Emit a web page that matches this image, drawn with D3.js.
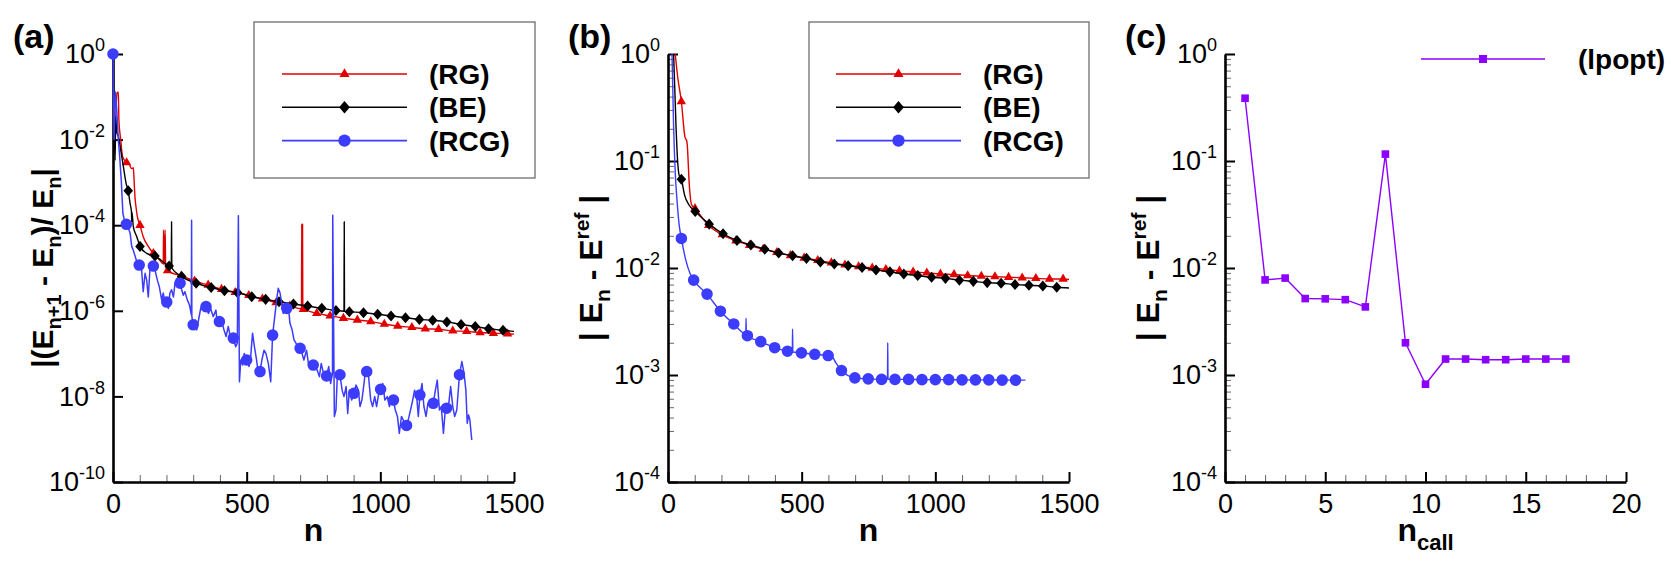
<!DOCTYPE html>
<html>
<head>
<meta charset="utf-8">
<script src="https://cdn.jsdelivr.net/npm/d3@7"></script>
<style>
html, body { margin: 0; padding: 0; background: #fff; }
svg { display: block; font-family: "Liberation Sans", Arial, Helvetica, sans-serif; }
</style>
</head>
<body>
<script>
// ---------- data ----------
// panel (a): |(E_{n+1} - E_n)/E_n| vs n
const rgA = [[10,0.03],[15,0.12],[20,0.13],[22,0.029],[29,9.8e-3],[36,4.0e-3],[51,2.9e-3],[61,2.6e-3],[70,2.1e-3],[76,2.2e-3],[79,1.1e-3],[82,4.7e-4],[86,2.7e-4],[91,1.6e-4],[101,1.0e-4],[113,5.4e-5],[132,3.2e-5],[151,2.2e-5],[176,1.5e-5],[188,1.25e-5],[189,7.7e-5],[191,1.2e-5],[195,7.7e-5],[197,1.1e-5],[204,8.7e-6],[255,6.5e-6],[305,5.0e-6],[356,4.0e-6],[406,3.2e-6],[457,2.7e-6],[508,2.3e-6],[559,1.9e-6],[610,1.55e-6],[661,1.3e-6],[705,1.12e-6],[706,1.07e-4],[707,1.11e-6],[709,1.07e-4],[710,1.09e-6],[712,1.08e-6],[762,8.7e-7],[812,7.6e-7],[862,6.7e-7],[914,6.1e-7],[964,5.6e-7],[1015,4.9e-7],[1065,4.4e-7],[1118,4.1e-7],[1168,3.8e-7],[1218,3.7e-7],[1271,3.4e-7],[1323,3.3e-7],[1373,3.1e-7],[1423,3.0e-7],[1476,2.9e-7],[1500,2.85e-7]];
const rgAMarks = [[51,2.9e-3],[101,1.0e-4],[151,2.2e-5],[204,8.7e-6],[255,6.5e-6],[305,5.0e-6],[356,4.0e-6],[406,3.2e-6],[457,2.7e-6],[508,2.3e-6],[559,1.9e-6],[610,1.55e-6],[661,1.3e-6],[712,1.08e-6],[762,8.7e-7],[812,7.6e-7],[862,6.7e-7],[914,6.1e-7],[964,5.6e-7],[1015,4.9e-7],[1065,4.4e-7],[1118,4.1e-7],[1168,3.8e-7],[1218,3.7e-7],[1271,3.4e-7],[1323,3.3e-7],[1373,3.1e-7],[1423,3.0e-7],[1476,2.9e-7]];

const beA = [[0,1],[5,0.035],[8,3.3e-3],[10,0.035],[14,0.015],[20,1.2e-2],[29,5.7e-3],[39,2.3e-3],[49,9.5e-4],[57,6.4e-4],[64,3.2e-4],[69,2.1e-4],[70,1.2e-4],[71,2.0e-4],[76,9.3e-5],[89,5.4e-5],[101,3.2e-5],[126,2.2e-5],[157,1.9e-5],[210,1.11e-5],[218,1.05e-5],[219,1.2e-4],[220,1.0e-5],[257,6.3e-6],[311,4.4e-6],[367,3.5e-6],[417,2.95e-6],[466,2.65e-6],[519,2.14e-6],[571,1.85e-6],[621,1.63e-6],[675,1.44e-6],[728,1.29e-6],[781,1.14e-6],[834,1.02e-6],[864,9.8e-7],[865,1.2e-4],[866,9.7e-7],[884,9.5e-7],[937,9.0e-7],[990,8.3e-7],[1040,7.6e-7],[1094,6.9e-7],[1146,6.3e-7],[1196,6.0e-7],[1249,5.5e-7],[1302,4.8e-7],[1355,4.3e-7],[1405,3.8e-7],[1459,3.5e-7],[1500,3.3e-7]];
const beAMarks = [[57,6.4e-4],[101,3.2e-5],[157,1.9e-5],[210,1.11e-5],[257,6.3e-6],[311,4.4e-6],[367,3.5e-6],[417,2.95e-6],[466,2.65e-6],[519,2.14e-6],[571,1.85e-6],[621,1.63e-6],[675,1.44e-6],[728,1.29e-6],[781,1.14e-6],[834,1.02e-6],[884,9.5e-7],[937,9.0e-7],[990,8.3e-7],[1040,7.6e-7],[1094,6.9e-7],[1146,6.3e-7],[1196,6.0e-7],[1249,5.5e-7],[1302,4.8e-7],[1355,4.3e-7],[1405,3.8e-7],[1459,3.5e-7]];

const rcgA = [[0,1],[4,0.01],[9,0.13],[14,0.05],[20,1.0e-2],[25,4.0e-3],[31,1.1e-3],[37,1.9e-4],[44,1.2e-4],[50,1.05e-4],[57,9e-5],[64,6.5e-5],[70,3.2e-5],[76,2.6e-5],[89,1.4e-5],[98,1.17e-5],[107,9.0e-6],[113,2.8e-6],[120,7.5e-6],[126,5.2e-6],[132,2.1e-6],[138,9.0e-6],[151,1.11e-5],[157,9.0e-6],[166,5.2e-6],[173,3.7e-6],[182,1.8e-6],[188,2.6e-6],[195,1.5e-6],[201,1.6e-6],[207,1.14e-6],[213,2.6e-6],[219,3.1e-6],[226,2.1e-6],[232,4.4e-6],[238,5.7e-6],[244,3.7e-6],[251,4.4e-6],[257,3.1e-6],[263,2.3e-6],[269,2.8e-6],[278,1.8e-6],[286,1.37e-6],[293,8e-7],[294,1.3e-4],[295,7.3e-7],[300,4.7e-7],[307,6.1e-7],[313,3.6e-7],[320,6.1e-7],[328,1.14e-6],[338,1.5e-6],[348,1.25e-6],[357,8.7e-7],[365,1.14e-6],[375,7.3e-7],[385,1.04e-6],[390,5.1e-7],[398,5.6e-7],[406,6.1e-7],[415,3.6e-7],[423,2.5e-7],[431,4.3e-7],[440,2.3e-7],[450,2.3e-7],[459,1.45e-7],[465,1.74e-7],[469,1.67e-4],[473,2.2e-8],[478,7.1e-8],[485,5.4e-8],[491,1.01e-7],[500,7.1e-8],[509,5.0e-8],[515,8.5e-8],[522,3.0e-7],[529,1.45e-7],[537,7.1e-8],[545,2.9e-8],[550,3.8e-8],[557,7.1e-8],[565,1.2e-7],[572,1.01e-7],[581,5.9e-8],[590,2.2e-8],[597,2.7e-7],[605,7.3e-7],[612,1.8e-6],[618,3.35e-6],[625,2.6e-6],[631,1.5e-6],[637,8.7e-7],[643,1.5e-6],[650,1.14e-6],[656,1.25e-6],[662,5.1e-7],[670,3.6e-7],[677,2.1e-7],[685,1.74e-7],[692,1.2e-7],[700,1.33e-7],[707,1.01e-7],[714,7.1e-8],[724,1.2e-7],[732,5.4e-8],[739,5.9e-8],[749,5.4e-8],[757,4.5e-8],[764,4.1e-8],[772,2.9e-8],[779,5.9e-8],[787,3.5e-8],[794,2.6e-8],[799,3.0e-8],[807,5.0e-8],[814,2.0e-8],[821,3.5e-8],[822,1.7e-4],[828,3.4e-9],[834,4.8e-9],[839,2.9e-8],[844,4.1e-8],[849,3.2e-8],[857,1.4e-8],[864,9.9e-9],[872,1.7e-8],[878,4.0e-9],[884,1.4e-8],[893,8.2e-9],[901,1.18e-8],[909,1.85e-8],[918,1.4e-8],[924,5.8e-9],[931,8.2e-9],[939,2.0e-8],[945,4.5e-8],[949,3.8e-8],[956,2.9e-8],[964,8.2e-9],[971,5.8e-9],[979,9.9e-9],[986,5.8e-9],[994,1.18e-8],[1001,1.46e-8],[1009,2.0e-8],[1017,8.2e-9],[1026,9.9e-9],[1034,5.8e-9],[1042,9.9e-9],[1049,8.2e-9],[1056,4.8e-9],[1064,3.4e-9],[1071,1.37e-9],[1079,3.4e-9],[1086,2.8e-9],[1092,2.0e-9],[1098,2.1e-9],[1106,3.1e-9],[1113,4.8e-9],[1121,8.2e-9],[1128,1.4e-8],[1136,9.9e-9],[1142,3.4e-9],[1148,1.08e-8],[1156,2.0e-8],[1163,5.8e-9],[1171,3.4e-9],[1178,6.9e-9],[1186,5.8e-9],[1192,8.2e-9],[1198,6.9e-9],[1206,1.4e-8],[1213,2.4e-8],[1221,4.8e-9],[1228,5.8e-9],[1236,1.37e-9],[1243,4.8e-9],[1248,5.3e-9],[1256,6.9e-9],[1263,1.7e-8],[1271,5.8e-9],[1278,3.4e-9],[1286,4.8e-9],[1296,3.2e-8],[1305,6.5e-8],[1313,3.5e-8],[1320,1.4e-8],[1325,2.35e-9],[1330,3.7e-9],[1335,2.8e-9],[1342,9.6e-10]];
const rcgAMarks = [[0,1],[50,1.05e-4],[98,1.17e-5],[151,1.11e-5],[201,1.6e-6],[251,4.4e-6],[300,4.7e-7],[348,1.25e-6],[398,5.6e-7],[450,2.3e-7],[500,7.1e-8],[550,3.8e-8],[597,2.7e-7],[650,1.14e-6],[700,1.33e-7],[749,5.4e-8],[799,3.0e-8],[849,3.2e-8],[901,1.18e-8],[949,3.8e-8],[1001,1.46e-8],[1049,8.2e-9],[1098,2.1e-9],[1148,1.08e-8],[1198,6.9e-9],[1248,5.3e-9],[1296,3.2e-8]];

// panel (b): |E_n - E_ref| vs n
const rgB = [[27,1],[37,0.59],[50,0.36],[63,0.17],[71,0.15],[80,0.058],[88,0.039],[101,0.036],[152,0.025],[203,0.0205],[254,0.018],[305,0.0163],[356,0.015],[407,0.014],[458,0.0131],[509,0.0124],[560,0.0118],[611,0.0112],[662,0.0107],[713,0.0103],[764,0.0100],[815,0.0097],[866,0.0094],[917,0.0092],[968,0.0090],[1019,0.0088],[1070,0.0087],[1121,0.0085],[1172,0.0084],[1223,0.0083],[1274,0.0082],[1325,0.0081],[1376,0.0080],[1427,0.0079],[1478,0.0079],[1500,0.0078]];
const rgBMarks = [[50,0.36],[101,0.036],[152,0.025],[203,0.0205],[254,0.018],[305,0.0163],[356,0.015],[407,0.014],[458,0.0131],[509,0.0124],[560,0.0118],[611,0.0112],[662,0.0107],[713,0.0103],[764,0.0100],[815,0.0097],[866,0.0094],[917,0.0092],[968,0.0090],[1019,0.0088],[1070,0.0087],[1121,0.0085],[1172,0.0084],[1223,0.0083],[1274,0.0082],[1325,0.0081],[1376,0.0080],[1427,0.0079],[1478,0.0079]];

const beB = [[21,1],[30,0.21],[36,0.10],[42,0.073],[50,0.0676],[62,0.048],[78,0.039],[102,0.0337],[154,0.0257],[206,0.0209],[258,0.0181],[310,0.0164],[362,0.0150],[414,0.0138],[466,0.0130],[518,0.0123],[570,0.0114],[622,0.0109],[674,0.0105],[726,0.0101],[778,0.0096],[830,0.0092],[882,0.0088],[934,0.0085],[986,0.0082],[1038,0.0080],[1090,0.0077],[1142,0.0075],[1194,0.0073],[1246,0.0072],[1298,0.0070],[1350,0.0069],[1402,0.0068],[1454,0.0066],[1500,0.0065]];
const beBMarks = [[50,0.0676],[102,0.0337],[154,0.0257],[206,0.0209],[258,0.0181],[310,0.0164],[362,0.0150],[414,0.0138],[466,0.0130],[518,0.0123],[570,0.0114],[622,0.0109],[674,0.0105],[726,0.0101],[778,0.0096],[830,0.0092],[882,0.0088],[934,0.0085],[986,0.0082],[1038,0.0080],[1090,0.0077],[1142,0.0075],[1194,0.0073],[1246,0.0072],[1298,0.0070],[1350,0.0069],[1402,0.0068],[1454,0.0066]];

const rcgB = [[15,1],[21,0.21],[27,0.079],[34,0.042],[42,0.025],[50,0.0189],[65,0.0123],[84,8.7e-3],[96,7.7e-3],[146,5.7e-3],[196,3.95e-3],[246,3.0e-3],[291,2.42e-3],[292,3.4e-3],[293,2.4e-3],[297,2.33e-3],[347,2.05e-3],[399,1.8e-3],[447,1.67e-3],[465,1.64e-3],[466,2.7e-3],[467,1.64e-3],[499,1.61e-3],[549,1.56e-3],[599,1.52e-3],[612,1.5e-3],[628,1.3e-3],[649,1.1e-3],[699,9.4e-4],[749,9.2e-4],[799,9.1e-4],[821,9.1e-4],[822,2.0e-3],[823,9.1e-4],[849,9.1e-4],[900,9.1e-4],[950,9.05e-4],[1000,9.05e-4],[1050,9.05e-4],[1100,9.0e-4],[1150,9.0e-4],[1200,9.0e-4],[1250,8.95e-4],[1300,8.95e-4],[1337,8.95e-4]];
const rcgBMarks = [[50,0.0189],[96,7.7e-3],[146,5.7e-3],[196,3.95e-3],[246,3.0e-3],[297,2.33e-3],[347,2.05e-3],[399,1.8e-3],[447,1.67e-3],[499,1.61e-3],[549,1.56e-3],[599,1.52e-3],[649,1.1e-3],[699,9.4e-4],[749,9.2e-4],[799,9.1e-4],[849,9.1e-4],[900,9.1e-4],[950,9.05e-4],[1000,9.05e-4],[1050,9.05e-4],[1100,9.0e-4],[1150,9.0e-4],[1200,9.0e-4],[1250,8.95e-4],[1300,8.95e-4]];

// panel (c): |E_n - E_ref| vs n_call
const nCall = [1,2,3,4,5,6,7,8,9,10,11,12,13,14,15,16,17];
const lpopt = [0.386,7.74e-3,8.05e-3,5.18e-3,5.15e-3,5.06e-3,4.33e-3,0.116,2.0e-3,8.2e-4,1.41e-3,1.41e-3,1.39e-3,1.39e-3,1.41e-3,1.41e-3,1.41e-3];

// tick values
const nTicks = [0, 500, 1000, 1500];
const callTicks = [0, 5, 10, 15, 20];
const yTicksA = [1, 1e-2, 1e-4, 1e-6, 1e-8, 1e-10];
const yTicksBC = [1, 1e-1, 1e-2, 1e-3, 1e-4];

// ---------- layout ----------
const W = 1671, H = 563;
const TOP = 54, PW = 401, PH = 428;
const RED = "#e00000", BLK = "#000000", BLUE = "#3c3cff", PURP = "#8c00ff";

const svg = d3.select("body").append("svg")
    .attr("width", W).attr("height", H);
svg.append("rect").attr("width", W).attr("height", H).attr("fill", "#fff");

// diamond marker, a bit taller than wide
const symDiamond = {
    draw(ctx, r) {
        ctx.moveTo(0, -r * 1.15);
        ctx.lineTo(r, 0);
        ctx.lineTo(0, r * 1.15);
        ctx.lineTo(-r, 0);
        ctx.closePath();
    }
};
const markers = {
    tri: (big) => d3.symbol().type(d3.symbolTriangle).size(big ? 44 : 38)(),
    dia: (big) => d3.symbol().type(symDiamond).size(big ? 5.4 : 4.8)(),
    circ: (big) => d3.symbol().type(d3.symbolCircle).size(big ? 120 : 105)(),
    sq: (big) => d3.symbol().type(d3.symbolSquare).size(big ? 64 : 58)()
};

function drawPanel(o) {
    const g = svg.append("g").attr("transform", `translate(${o.left},${TOP})`);
    const x = d3.scaleLinear().domain(o.xDomain).range([0, PW]);
    const y = d3.scaleLog().domain(o.yDomain).range([PH, 0]);

    // minor ticks
    const xMinor = x.ticks(o.xMinorCount).filter(v => !o.xTicks.includes(v));
    g.append("g").attr("transform", `translate(0,${PH})`)
        .call(d3.axisBottom(x).tickValues(xMinor).tickSize(-7).tickFormat(""))
        .call(s => s.select(".domain").remove())
        .selectAll("line").attr("stroke", "#666").attr("stroke-width", 1);
    if (o.yMinor) {
        const yMinor = y.ticks().filter(v => !o.yTicks.some(t => Math.abs(t - v) < t * 1e-6));
        g.append("g")
            .call(d3.axisLeft(y).tickValues(yMinor).tickSize(-6).tickFormat(""))
            .call(s => s.select(".domain").remove())
            .selectAll("line").attr("stroke", "#666").attr("stroke-width", 1);
    }

    // major x axis
    const ax = g.append("g").attr("transform", `translate(0,${PH})`)
        .call(d3.axisBottom(x).tickValues(o.xTicks).tickFormat(d3.format("d"))
            .tickSize(-10).tickSizeOuter(0).tickPadding(12));
    ax.attr("font-family", null).attr("font-size", null);
    ax.select(".domain").attr("stroke", "#000").attr("stroke-width", 2.6);
    ax.selectAll(".tick line").attr("stroke", "#000").attr("stroke-width", 2);
    ax.selectAll(".tick text").attr("font-size", 27).attr("fill", "#000");

    // major y axis with 10^k labels
    const ay = g.append("g")
        .call(d3.axisLeft(y).tickValues(o.yTicks).tickSize(-10).tickSizeOuter(0).tickPadding(8));
    ay.attr("font-family", null).attr("font-size", null);
    ay.select(".domain").attr("stroke", "#000").attr("stroke-width", 2.6);
    ay.selectAll(".tick line").attr("stroke", "#000").attr("stroke-width", 2);
    ay.selectAll(".tick text").each(function (d) {
        const t = d3.select(this).text(null).attr("font-size", 27).attr("fill", "#000");
        t.append("tspan").text("10");
        t.append("tspan").attr("dy", -12).attr("font-size", 18)
            .text(String(Math.round(Math.log10(d))));
    });

    // series
    o.series.forEach(s => {
        const line = d3.line()
            .x(d => x(d[0])).y(d => y(d[1]))
            .curve(s.smooth ? d3.curveMonotoneX : d3.curveLinear);
        g.append("path").datum(s.line)
            .attr("fill", "none").attr("stroke", s.color)
            .attr("stroke-width", s.width || 1.4).attr("stroke-linejoin", "round")
            .attr("d", line);
        g.append("g").selectAll("path").data(s.marks).join("path")
            .attr("transform", d => `translate(${x(d[0])},${y(d[1])})`)
            .attr("d", markers[s.marker](false))
            .attr("fill", s.color);
    });

    // panel tag
    svg.append("text").attr("x", o.left - 100).attr("y", 48)
        .attr("font-size", 34).attr("font-weight", "bold").text(o.tag);

    // x title
    const xt = svg.append("text")
        .attr("x", o.left + PW / 2).attr("y", 541)
        .attr("text-anchor", "middle").attr("font-size", 32).attr("font-weight", "bold");
    xt.append("tspan").text("n");
    if (o.xSub) xt.append("tspan").attr("dy", 9).attr("font-size", 22).text(o.xSub);

    // y title (rotated)
    const yt = svg.append("text")
        .attr("transform", `translate(${o.left - o.yTitleOff},${TOP + PH / 2}) rotate(-90)`)
        .attr("text-anchor", "middle").attr("font-size", o.yTitleSize).attr("font-weight", "bold");
    o.yTitle.forEach(p => {
        const ts = yt.append("tspan").text(p.t);
        if (p.dy) ts.attr("dy", p.dy);
        if (p.small) ts.attr("font-size", Math.round(o.yTitleSize * 0.66));
    });

    // legend
    if (o.legend) {
        const L = o.legend;
        if (L.box) {
            svg.append("rect").attr("x", L.box[0]).attr("y", L.box[1])
                .attr("width", L.box[2]).attr("height", L.box[3])
                .attr("fill", "#fff").attr("stroke", "#808080").attr("stroke-width", 1.5);
        }
        L.items.forEach((it, i) => {
            const ly = L.y0 + i * L.dy;
            svg.append("line").attr("x1", L.x1).attr("x2", L.x2)
                .attr("y1", ly).attr("y2", ly)
                .attr("stroke", it.color).attr("stroke-width", 1.6);
            svg.append("path").attr("transform", `translate(${(L.x1 + L.x2) / 2},${ly})`)
                .attr("d", markers[it.marker](true)).attr("fill", it.color);
            svg.append("text").attr("x", L.tx).attr("y", ly + 10)
                .attr("font-size", 28).attr("font-weight", "bold").text(it.label);
        });
    }
}

const legend3 = [
    { label: "(RG)", color: RED, marker: "tri" },
    { label: "(BE)", color: BLK, marker: "dia" },
    { label: "(RCG)", color: BLUE, marker: "circ" }
];
const titleDiff = [
    { t: "| E" }, { t: "n", dy: 8, small: true }, { t: " - E", dy: -8 },
    { t: "ref", dy: -13, small: true }, { t: " |", dy: 13 }
];

drawPanel({
    tag: "(a)", left: 113, xDomain: [0, 1500], yDomain: [1e-10, 1],
    xTicks: nTicks, xMinorCount: 15, yTicks: yTicksA, yMinor: false,
    yTitleOff: 60, yTitleSize: 30,
    yTitle: [
        { t: "|(E" }, { t: "n+1", dy: 8, small: true }, { t: " - E", dy: -8 },
        { t: "n", dy: 8, small: true }, { t: ")/ E", dy: -8 },
        { t: "n", dy: 8, small: true }, { t: "|", dy: -8 }
    ],
    series: [
        { line: rgA, marks: rgAMarks, color: RED, marker: "tri", smooth: true },
        { line: beA, marks: beAMarks, color: BLK, marker: "dia", smooth: true },
        { line: rcgA, marks: rcgAMarks, color: BLUE, marker: "circ", smooth: false, width: 1.5 }
    ],
    legend: { box: [254, 22, 281, 156], x1: 282, x2: 407, y0: 74, dy: 33.3, tx: 429, items: legend3 }
});

drawPanel({
    tag: "(b)", left: 668, xDomain: [0, 1500], yDomain: [1e-4, 1],
    xTicks: nTicks, xMinorCount: 15, yTicks: yTicksBC, yMinor: true,
    yTitleOff: 66, yTitleSize: 32, yTitle: titleDiff,
    series: [
        { line: rgB, marks: rgBMarks, color: RED, marker: "tri", smooth: true },
        { line: beB, marks: beBMarks, color: BLK, marker: "dia", smooth: true },
        { line: rcgB, marks: rcgBMarks, color: BLUE, marker: "circ", smooth: true }
    ],
    legend: { box: [809, 22, 280, 156], x1: 836, x2: 961, y0: 74, dy: 33.3, tx: 983, items: legend3 }
});

drawPanel({
    tag: "(c)", left: 1225, xDomain: [0, 20], yDomain: [1e-4, 1],
    xTicks: callTicks, xMinorCount: 20, yTicks: yTicksBC, yMinor: true,
    xSub: "call", yTitleOff: 66, yTitleSize: 32, yTitle: titleDiff,
    series: [
        { line: nCall.map((n, i) => [n, lpopt[i]]), marks: nCall.map((n, i) => [n, lpopt[i]]),
          color: PURP, marker: "sq", smooth: false }
    ],
    legend: { x1: 1421, x2: 1545, y0: 59, dy: 0, tx: 1578,
              items: [{ label: "(lpopt)", color: PURP, marker: "sq" }] }
});
</script>
</body>
</html>
